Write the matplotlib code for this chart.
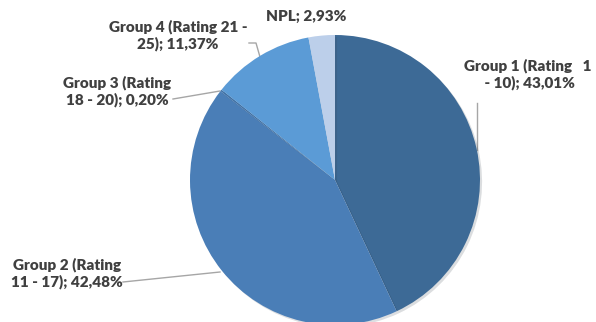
import matplotlib
matplotlib.use("Agg")
import matplotlib.pyplot as plt
import matplotlib.patheffects as pe

# portfolio breakdown by rating group
labels = ["Group 1 (Rating   1\n - 10); 43,01%",
          "Group 2 (Rating\n11 - 17); 42,48%",
          "Group 3 (Rating\n18 - 20); 0,20%",
          "Group 4 (Rating 21 -\n25); 11,37%",
          "NPL; 2,93%"]
shares = [43.01, 42.48, 0.20, 11.37, 2.93]
colors = ["#3D6A96", "#4A7EB7", "#3F72A8", "#5B9BD6", "#BCCFEA"]

# label anchor points and leader lines (pixel coords, y measured from the top)
label_pos = [(528, 74), (67, 273), (117, 91), (178, 35), (306, 16)]
leaders = [
    [(477, 103), (477, 150)],
    [(123, 282), (220, 272)],
    [(173, 99), (220, 91)],
    [(249, 43), (256, 43), (260, 57)],
    None,
]

W, H = 596, 322
fig = plt.figure(figsize=(W / 100, H / 100), dpi=100)
ax = fig.add_axes([0, 0, 1, 1])

wedges, _ = ax.pie(shares, colors=colors, startangle=90, counterclock=False,
                   center=(335, H - 180), radius=145, frame=True,
                   wedgeprops=dict(linewidth=0))
for w in wedges:
    w.set_path_effects([pe.SimplePatchShadow(offset=(1.5, -1.5), alpha=0.15), pe.Normal()])
ax.set_xlim(0, W)
ax.set_ylim(0, H)
ax.set_aspect("equal")
ax.axis("off")

for lab, (x, y), ld in zip(labels, label_pos, leaders):
    ax.text(x, H - y, lab, ha="center", va="center", fontsize=11,
            family="Lato", fontweight="heavy", color="#404040", linespacing=1.2)
    if ld:
        xs = [p[0] for p in ld]
        ys = [H - p[1] for p in ld]
        ax.plot(xs, ys, color="#A6A6A6", lw=1, zorder=0.5)

fig.savefig("out.png", dpi=100)
